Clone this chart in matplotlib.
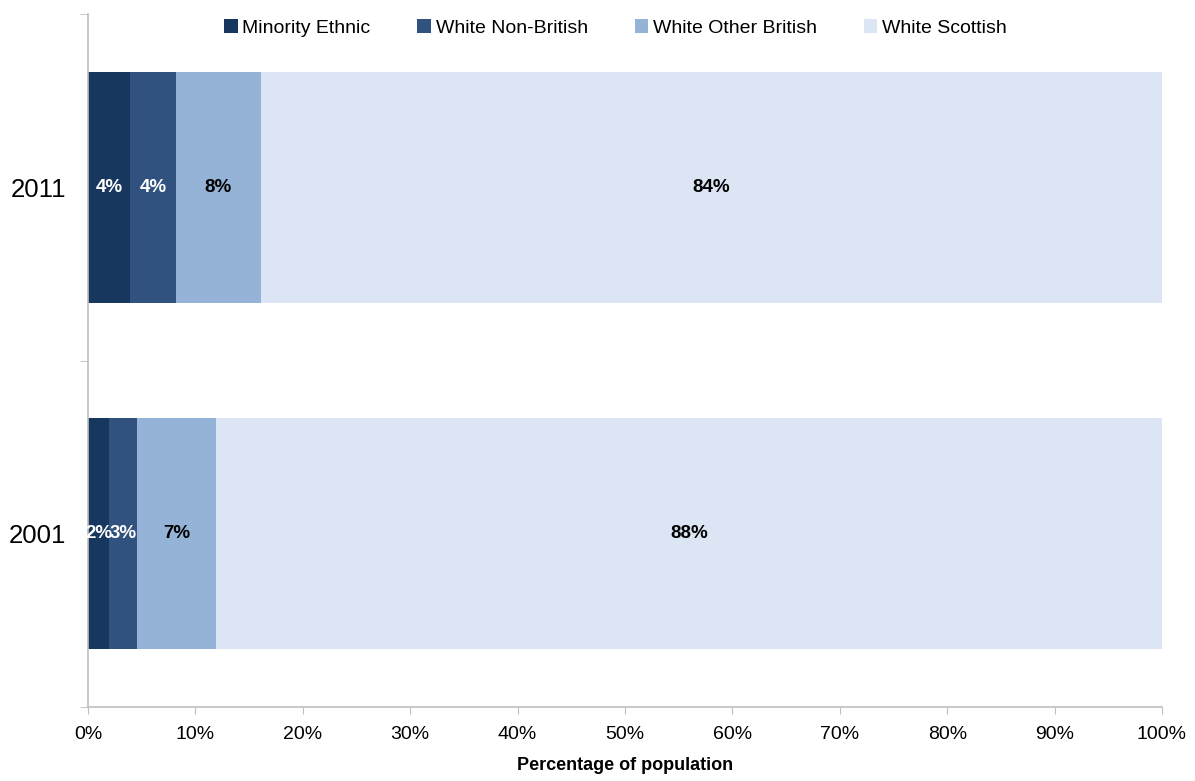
import matplotlib
matplotlib.use("Agg")
import matplotlib.pyplot as plt
from matplotlib.ticker import PercentFormatter

plt.rcParams['font.family'] = ['Liberation Sans', 'DejaVu Sans']

years = ["2001", "2011"]
series_names = ["Minority Ethnic", "White Non-British", "White Other British", "White Scottish"]
minority_ethnic = [2.0, 3.9]
white_non_british = [2.6, 4.3]
white_other_british = [7.3, 7.9]
white_scottish = [88.1, 83.9]
label_text = [["2%", "4%"], ["3%", "4%"], ["7%", "8%"], ["88%", "84%"]]
colors = ["#17375E", "#31527E", "#95B3D7", "#DBE5F3"]
label_colors = ["white", "white", "black", "black"]

series = [minority_ethnic, white_non_british, white_other_british, white_scottish]

fig = plt.figure(figsize=(11.95, 7.81), dpi=100)
ax = fig.add_axes([88/1195, (781-707)/781, (1162-88)/1195, (707-14)/781])

ypos = list(range(len(years)))
left = [0.0] * len(years)
for name, vals, col, lcol, labs in zip(series_names, series, colors, label_colors, label_text):
    ax.barh(ypos, vals, left=left, height=0.667, color=col, label=name, edgecolor='none')
    for i, (v, l) in enumerate(zip(vals, left)):
        ax.text(l + v / 2, ypos[i], labs[i], ha='center', va='center', color=lcol,
                fontsize=13.5, fontweight='bold')
    left = [a + b for a, b in zip(left, vals)]

ax.set_xlim(0, 100)
ax.set_ylim(-0.5, 1.5)
ax.xaxis.set_major_formatter(PercentFormatter(decimals=0))
ax.set_xticks(range(0, 101, 10))
ax.set_yticks(ypos)
ax.set_yticklabels(years, fontsize=18.5)
ax.tick_params(axis='y', length=0, pad=16)
ax.set_yticks([-0.5, 0.5, 1.5], minor=True)
ax.tick_params(axis='y', which='minor', length=6, color='#BFBFBF', direction='out')
ax.tick_params(axis='x', labelsize=14, length=5, color='#BFBFBF', direction='out', pad=9)

for s in ['top', 'right']:
    ax.spines[s].set_visible(False)
for s in ['left', 'bottom']:
    ax.spines[s].set_color('#BFBFBF')
    ax.spines[s].set_linewidth(1.2)

ax.set_xlabel("Percentage of population", fontsize=13, fontweight='bold', labelpad=10)

leg = fig.legend(loc='upper center', bbox_to_anchor=(0.515, 0.998), ncol=4, frameon=False,
                 fontsize=14, handlelength=0.7, handleheight=0.7, handletextpad=0.25,
                 columnspacing=2.4)

fig.savefig("out.png", dpi=100)
